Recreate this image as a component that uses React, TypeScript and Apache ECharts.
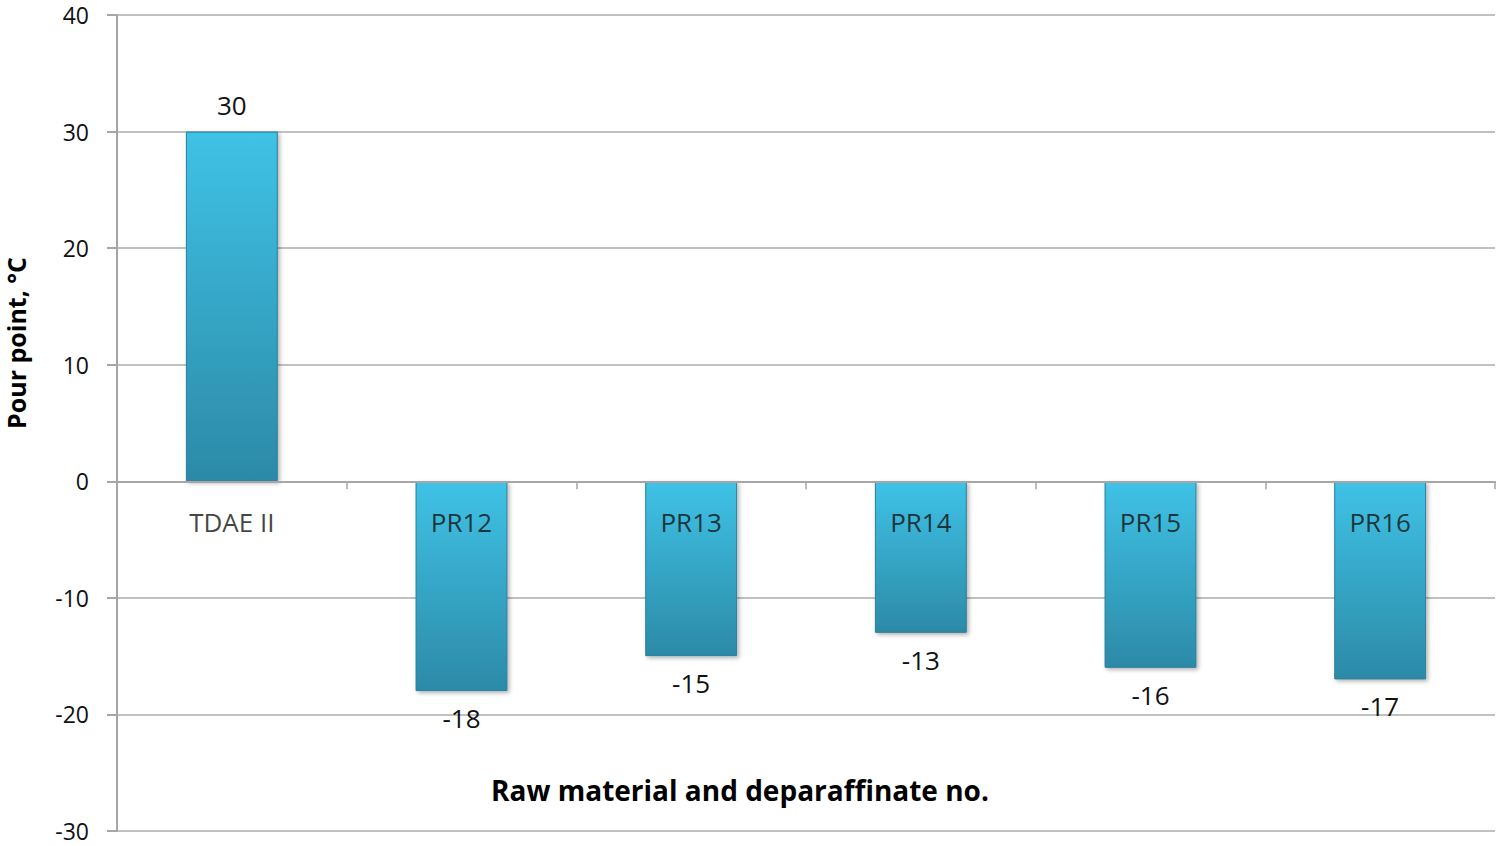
import { useEffect, useRef } from 'react';
import * as echarts from 'echarts';

// Pour point of the raw material and its deparaffinates
const categories = ['TDAE II', 'PR12', 'PR13', 'PR14', 'PR15', 'PR16'];
const pourPoints = [30, -18, -15, -13, -16, -17];

const yMin = -30;
const yMax = 40;
const yStep = 10;

const FONT = '"Open Sans", "Noto Sans", sans-serif';

const App: React.FC = () => {
    const chartRef = useRef<HTMLDivElement>(null);

    useEffect(() => {
        if (!chartRef.current) return;
        const chart = echarts.init(chartRef.current, undefined, { renderer: 'svg' });

        const barColor = new echarts.graphic.LinearGradient(0, 0, 0, 1, [
            { offset: 0, color: '#3fc2e6' },
            { offset: 1, color: '#2c8aa7' },
        ]);

        const option: any = {
            animation: false,
            backgroundColor: '#ffffff',
            grid: {
                left: 117,
                right: 5,
                top: 15,
                bottom: 15,
                containLabel: false,
                outerBoundsMode: 'none',
            },
            xAxis: {
                type: 'category',
                data: categories,
                axisLine: { onZero: true, lineStyle: { color: '#a6a6a6', width: 2 } },
                axisTick: { show: true, length: 8, lineStyle: { color: '#a6a6a6', width: 1.5 } },
                // category names are drawn at the zero line by the helper series below
                axisLabel: { show: false },
                z: 10,
            },
            yAxis: {
                type: 'value',
                min: yMin,
                max: yMax,
                interval: yStep,
                axisLine: { show: true, lineStyle: { color: '#a6a6a6', width: 2 } },
                axisTick: { show: true, length: 10, lineStyle: { color: '#a6a6a6', width: 2 } },
                splitLine: { lineStyle: { color: '#c0c0c0', width: 2 } },
                axisLabel: {
                    margin: 28,
                    color: '#111111',
                    fontFamily: FONT,
                    fontSize: 23,
                    lineHeight: 23,
                },
            },
            graphic: [
                {
                    type: 'text',
                    x: 740,
                    y: 790,
                    style: {
                        text: 'Raw material and deparaffinate no.',
                        fontFamily: FONT,
                        fontWeight: 'bold',
                        fontSize: 28,
                        fill: '#000000',
                        align: 'center',
                        verticalAlign: 'middle',
                    },
                },
                {
                    type: 'text',
                    x: 16,
                    y: 343,
                    rotation: Math.PI / 2,
                    style: {
                        text: 'Pour point, °C',
                        fontFamily: FONT,
                        fontWeight: 'bold',
                        fontSize: 25,
                        fill: '#000000',
                        align: 'center',
                        verticalAlign: 'middle',
                    },
                },
            ],
            series: [
                {
                    type: 'bar',
                    barWidth: '40%',
                    data: pourPoints.map((v) => ({
                        value: v,
                        label: { position: v >= 0 ? 'top' : 'bottom' },
                    })),
                    itemStyle: {
                        color: barColor,
                        borderColor: '#2a7f99',
                        borderWidth: 1,
                        shadowColor: 'rgba(0, 0, 0, 0.3)',
                        shadowBlur: 4,
                        shadowOffsetX: 2,
                        shadowOffsetY: 2,
                    },
                    label: {
                        show: true,
                        distance: 14,
                        color: '#111111',
                        fontFamily: FONT,
                        fontSize: 26,
                    },
                },
                {
                    // category names sit just below the zero line, inside the negative bars
                    type: 'scatter',
                    silent: true,
                    symbolSize: 1,
                    itemStyle: { color: 'transparent' },
                    data: categories.map((c) => [c, 0]),
                    label: {
                        show: true,
                        position: 'inside',
                        offset: [0, 41],
                        formatter: (p: any) => p.value[0],
                        color: '#111111',
                        fontFamily: FONT,
                        fontSize: 26,
                    },
                    z: 5,
                },
            ],
        };

        chart.setOption(option);
        return () => chart.dispose();
    }, []);

    return (
        <div
            ref={chartRef}
            style={{ position: 'absolute', left: 0, top: 0, width: 1500, height: 846 }}
        />
    );
};

export default App;
